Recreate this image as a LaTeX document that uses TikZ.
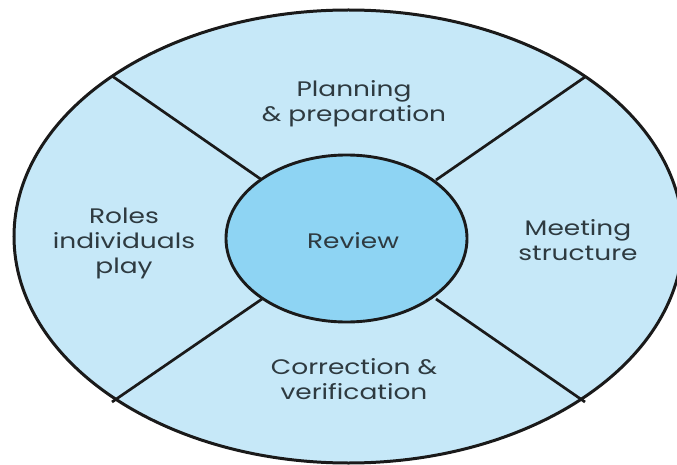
\documentclass[tikz,border=0pt]{standalone}
\usepackage{fontspec}
\setmainfont{Poppins}
\usetikzlibrary{shapes.geometric}
\definecolor{outerfill}{HTML}{C6E8F8}
\definecolor{innerfill}{HTML}{8ED4F3}
\definecolor{ink}{HTML}{1A1A1A}
\definecolor{txt}{HTML}{2E3A40}
\tikzset{
  sector/.style={draw=ink, line width=2.7pt},
  lbl/.style={anchor=base, inner sep=0pt, text=txt, font=\fontsize{21}{25}\selectfont, xscale=1.26},
}
\begin{document}
\begin{tikzpicture}[x=1pt,y=-1pt]
\useasboundingbox (0,0) rectangle (677,465);
\fill[white] (0,0) rectangle (677,465);
% outer ellipse fill
\fill[outerfill] (348.5,236.5) ellipse [x radius=334.5pt, y radius=226.5pt];
% divider end points
\coordinate (ulo) at (112,76);
\coordinate (uro) at (585,77);
\coordinate (llo) at (112,402);
\coordinate (lro) at (585,402);
\coordinate (uli) at (262,180);
\coordinate (uri) at (436,180);
\coordinate (lli) at (262,299);
\coordinate (lri) at (436,299);
\draw[sector] (ulo) -- (uli);
\draw[sector] (uro) -- (uri);
\draw[sector] (llo) -- (lli);
\draw[sector] (lro) -- (lri);
% inner ellipse
\node[ellipse, draw=ink, line width=2.9pt, fill=innerfill, minimum width=241pt, minimum height=167pt, inner sep=0pt] (review) at (346.5,238.5) {};
% outer ellipse stroke
\draw[draw=ink, line width=3pt] (348.5,236.5) ellipse [x radius=334.5pt, y radius=226.5pt];
% labels
\node[lbl] (plan1) at (354,97) {Planning};
\node[lbl] (plan2) at (354,122) {\& preparation};
\node[lbl] (role1) at (124,223) {Roles};
\node[lbl] (role2) at (124,248) {individuals};
\node[lbl] (role3) at (124,273) {play};
\node[lbl] (rev) at (353,248) {Review};
\node[lbl] (meet1) at (578,235) {Meeting};
\node[lbl] (meet2) at (578,260) {structure};
\node[lbl] (corr1) at (354,374) {Correction \&};
\node[lbl] (corr2) at (354,399) {verification};
\end{tikzpicture}
\end{document}
